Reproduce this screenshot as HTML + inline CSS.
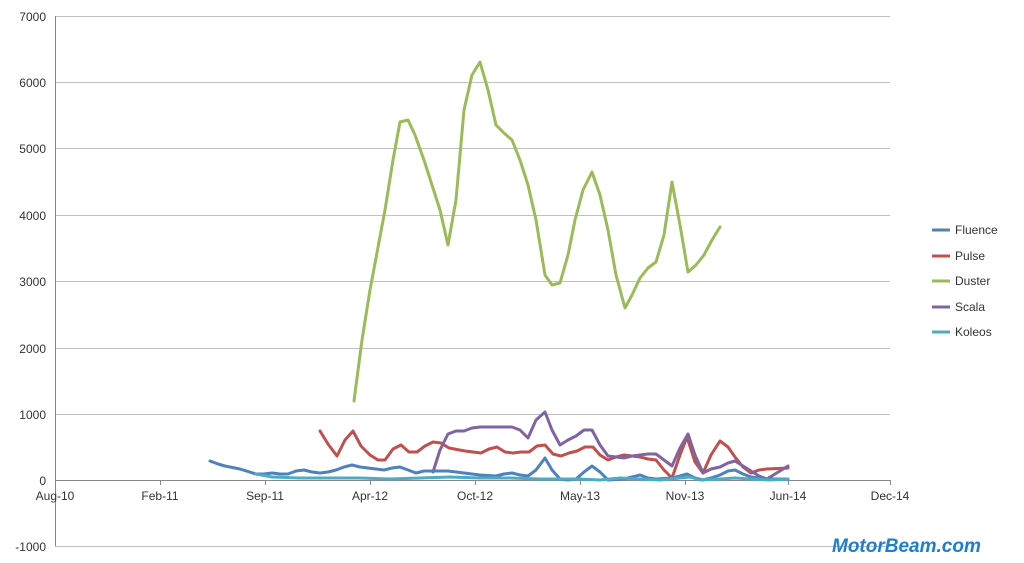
<!DOCTYPE html>
<html><head><meta charset="utf-8"><style>body{margin:0;background:#fff}svg{display:block}text{font-family:"Liberation Sans",sans-serif;font-size:12px;fill:#333}</style></head><body>
<svg width="1024" height="563" viewBox="0 0 1024 563">
<g stroke="#c0c0c0" stroke-width="1">
<line x1="55" y1="16.5" x2="890" y2="16.5"/><line x1="55" y1="82.5" x2="890" y2="82.5"/><line x1="55" y1="148.5" x2="890" y2="148.5"/><line x1="55" y1="215.5" x2="890" y2="215.5"/><line x1="55" y1="281.5" x2="890" y2="281.5"/><line x1="55" y1="348.5" x2="890" y2="348.5"/><line x1="55" y1="414.5" x2="890" y2="414.5"/><line x1="55" y1="546.5" x2="890" y2="546.5"/>
</g>
<g stroke="#888" stroke-width="1">
<line x1="55.5" y1="16" x2="55.5" y2="546"/><line x1="55" y1="480.5" x2="890" y2="480.5"/>
<line x1="160.5" y1="480" x2="160.5" y2="485"/><line x1="265.5" y1="480" x2="265.5" y2="485"/><line x1="370.5" y1="480" x2="370.5" y2="485"/><line x1="475.5" y1="480" x2="475.5" y2="485"/><line x1="580.5" y1="480" x2="580.5" y2="485"/><line x1="685.5" y1="480" x2="685.5" y2="485"/><line x1="788.5" y1="480" x2="788.5" y2="485"/><line x1="890.5" y1="480" x2="890.5" y2="485"/>
</g>
<g text-anchor="end"><text x="46" y="21">7000</text><text x="46" y="87">6000</text><text x="46" y="153">5000</text><text x="46" y="220">4000</text><text x="46" y="286">3000</text><text x="46" y="353">2000</text><text x="46" y="419">1000</text><text x="46" y="485">0</text><text x="46" y="551">-1000</text></g>
<g text-anchor="middle"><text x="55" y="500">Aug-10</text><text x="160" y="500">Feb-11</text><text x="265" y="500">Sep-11</text><text x="370" y="500">Apr-12</text><text x="475" y="500">Oct-12</text><text x="580" y="500">May-13</text><text x="685" y="500">Nov-13</text><text x="788" y="500">Jun-14</text><text x="890" y="500">Dec-14</text></g>
<g fill="none" stroke-width="3" stroke-linejoin="round" stroke-linecap="round">
<polyline stroke="#9bbb59" points="354,401 362,340 370,290 385,210 393,160 400,122 408,120 415,135 424,160 432,185 440,210 448,245 456,200 464,110 472,75 480,62 488,90 496,125 504,133 512,140 520,160 528,185 536,220 545,275 552,285 560,283 568,255 575,220 583,190 592,172 600,195 608,230 616,275 625,308 632,295 640,278 648,268 656,262 664,235 672,182 680,225 688,272 696,265 704,255 712,240 720,227"/>
<polyline stroke="#c0504d" points="320,431 328,444 337,456 345,440 353,431 361,446 370,455 378,460 385,460 393,449 401,445 409,452 417,452 425,446 433,442 441,443 449,448 465,451 481,453 489,449 497,447 505,452 513,453 521,452 529,452 537,446 545,445 553,454 561,456 569,453 577,451 585,447 593,447 600,455 608,460 616,457 624,455 640,457 648,459 656,460 664,470 672,478 680,455 687,437 695,462 703,473 711,455 720,441 728,447 735,457 743,467 751,473 759,470 767,469 788,468"/>
<polyline stroke="#8064a2" points="433,472 440,450 448,434 456,431 464,431 472,428 480,427 496,427 512,427 520,430 528,438 536,420 545,412 552,430 560,445 568,440 576,436 584,430 592,430 600,445 608,456 616,457 624,458 632,456 640,455 648,454 656,454 664,460 672,466 680,448 688,434 695,455 703,473 711,469 720,467 728,463 735,461 743,466 751,471 759,476 767,479 775,474 788,466"/>
<polyline stroke="#4f81bd" points="210,461 218,464 225,466 240,469 256,474 264,474 272,473 280,474 288,474 296,471 304,470 312,472 320,473 328,472 336,470 344,467 352,465 360,467 368,468 376,469 384,470 392,468 400,467 408,470 416,473 424,471 432,471 448,471 464,473 480,475 496,476 504,474 512,473 520,475 528,476 536,470 545,458 552,470 560,479 568,480 576,479 584,472 592,466 600,472 608,480 624,479 632,477 640,475 648,478 656,479 672,478 680,476 687,474 695,478 703,480 711,478 720,475 728,471 735,470 743,474 751,477 767,479 788,479"/>
<polyline stroke="#4bacc6" points="256,474 272,477 300,478 330,478 360,478 390,479 420,478 450,477 480,478 510,478 540,479 560,479 580,479 600,480 620,478 640,479 660,480 680,478 690,477 700,480 720,479 735,478 750,479 770,480 788,479"/>
</g>
<g stroke-width="3">
<line x1="932" y1="230" x2="950" y2="230" stroke="#4f81bd"/><line x1="932" y1="256" x2="950" y2="256" stroke="#c0504d"/><line x1="932" y1="281" x2="950" y2="281" stroke="#9bbb59"/><line x1="932" y1="307" x2="950" y2="307" stroke="#8064a2"/><line x1="932" y1="332" x2="950" y2="332" stroke="#4bacc6"/>
</g>
<text x="955" y="234">Fluence</text><text x="955" y="260">Pulse</text><text x="955" y="285">Duster</text><text x="955" y="311">Scala</text><text x="955" y="336">Koleos</text>
<text x="832" y="552" style="font-size:19px;font-weight:bold;font-style:italic;fill:#1a7fd0">MotorBeam.com</text>
</svg>
</body></html>
